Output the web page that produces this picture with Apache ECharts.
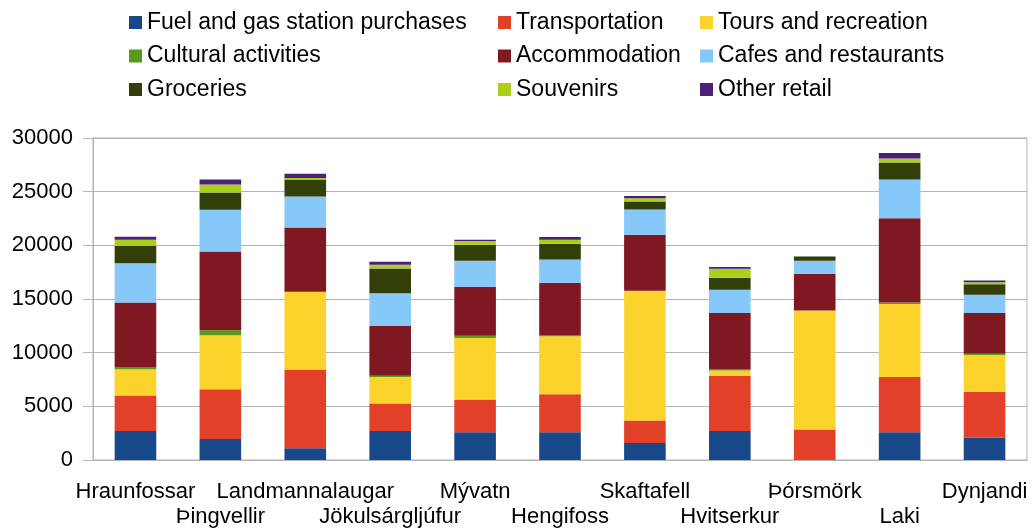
<!DOCTYPE html>
<html>
<head>
<meta charset="utf-8">
<script src="https://cdn.jsdelivr.net/npm/echarts@6/dist/echarts.min.js"></script>
<style>
  html, body { margin: 0; padding: 0; background: #fff; }
  #main { width: 1032px; height: 529px; }
</style>
</head>
<body>
<div id="main"></div>
<script>
const places = ["Hraunfossar", "Þingvellir", "Landmannalaugar", "Jökulsárgljúfur", "Mývatn", "Hengifoss",
  "Skaftafell", "Hvitserkur", "Þórsmörk", "Laki", "Dynjandi"];

const fuel = [2700, 1960, 1090, 2710, 2585, 2585, 1590, 2710, 0, 2585, 2090];
const transport = [3300, 4640, 7350, 2555, 3050, 3550, 2090, 5110, 2835, 5140, 4265];
const tours = [2450, 5015, 7230, 2460, 5730, 5390, 12085, 530, 11090, 6820, 3425];
const cultural = [220, 470, 0, 125, 220, 125, 0, 125, 0, 125, 125];
const accommodation = [6010, 7350, 5980, 4640, 4550, 4860, 5230, 5230, 3425, 7850, 3800];
const cafes = [3640, 3890, 2900, 3050, 2430, 2180, 2340, 2150, 1215, 3615, 1680];
const groceries = [1620, 1590, 1590, 2305, 1500, 1460, 750, 1120, 405, 1590, 1000];
const souvenirs = [590, 750, 125, 340, 340, 375, 310, 840, 0, 375, 185];
const otherRetail = [280, 470, 400, 280, 125, 250, 190, 155, 0, 500, 155];

const yTicks = [0, 5000, 10000, 15000, 20000, 25000, 30000];

const seriesList = [
  { name: "Fuel and gas station purchases", data: fuel, color: "#17488a" },
  { name: "Transportation", data: transport, color: "#e3402a" },
  { name: "Tours and recreation", data: tours, color: "#fbd32a" },
  { name: "Cultural activities", data: cultural, color: "#579d1c" },
  { name: "Accommodation", data: accommodation, color: "#7f1820" },
  { name: "Cafes and restaurants", data: cafes, color: "#85c8f9" },
  { name: "Groceries", data: groceries, color: "#333f08" },
  { name: "Souvenirs", data: souvenirs, color: "#acd01a" },
  { name: "Other retail", data: otherRetail, color: "#4b2077" },
];

const chart = echarts.init(document.getElementById("main"));

const font = "'Liberation Sans', Arial, sans-serif";
const legendBase = {
  orient: "vertical",
  top: 11,
  padding: 0,
  itemWidth: 13,
  itemHeight: 13,
  itemGap: 10.5,
  icon: "rect",
  textStyle: { fontFamily: font, fontSize: 23, color: "#000", lineHeight: 23 },
  selectedMode: false,
};

const options = {
  animation: false,
  color: seriesList.map((s) => s.color),
  legend: [
    { ...legendBase, left: 129, data: [seriesList[0].name, seriesList[3].name, seriesList[6].name] },
    { ...legendBase, left: 498, data: [seriesList[1].name, seriesList[4].name, seriesList[7].name] },
    { ...legendBase, left: 700, data: [seriesList[2].name, seriesList[5].name, seriesList[8].name] },
  ],
  grid: {
    left: 93,
    right: 5,
    top: 138,
    bottom: 69,
    show: true,
    borderColor: "#b3b3b3",
    borderWidth: 1,
  },
  xAxis: {
    type: "category",
    data: places,
    axisLine: { lineStyle: { color: "#b3b3b3" } },
    axisTick: { length: 7, lineStyle: { color: "#b3b3b3" } },
    axisLabel: {
      interval: 0,
      fontFamily: font,
      fontSize: 22,
      color: "#000",
      lineHeight: 25,
      margin: 19,
      formatter: (v, i) => (i % 2 ? "\n" + v : v),
    },
  },
  yAxis: {
    type: "value",
    min: yTicks[0],
    max: yTicks[yTicks.length - 1],
    interval: 5000,
    axisLine: { show: true, lineStyle: { color: "#b3b3b3" } },
    axisTick: { show: true, length: 10, lineStyle: { color: "#b3b3b3" } },
    splitLine: { lineStyle: { color: "#b3b3b3" } },
    axisLabel: {
      fontFamily: font,
      fontSize: 22,
      color: "#000",
      margin: 20,
      formatter: (v) => String(v),
    },
  },
  series: seriesList.map((s) => ({
    name: s.name,
    type: "bar",
    stack: "total",
    data: s.data,
    barWidth: "49%",
    itemStyle: { color: s.color },
  })),
};

chart.setOption(options);
</script>
</body>
</html>
